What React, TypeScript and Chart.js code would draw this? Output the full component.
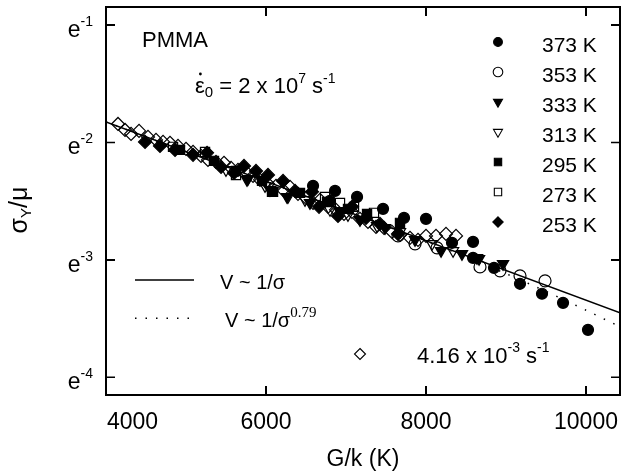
import React, { useEffect, useRef, useState } from "react";
import { Chart, registerables } from "chart.js";

Chart.register(...registerables);

// ---------- axis ----------
const xMin = 4000;
const xMax = 10425;
const yMin = -4.151;
const yMax = -0.847;
const xTicks = [4000, 6000, 8000, 10000];
const xTickLabels = ["4000", "6000", "8000", "10000"];
const yTicks = [-4, -3, -2, -1];
const yTickExponents = ["-4", "-3", "-2", "-1"];

// ---------- data (x = G/k in K, y = ln(σY/μ)) ----------
const k373X = [6588, 6800, 6863, 7138, 7463, 7725, 8000, 8325, 8588, 8588, 8850, 9175, 9450, 9713, 10025];
const k373Y = [-2.370, -2.498, -2.413, -2.464, -2.566, -2.643, -2.651, -2.855, -2.847, -2.983, -3.068, -3.204, -3.289, -3.366, -3.596];

const k353X = [7650, 7863, 8138, 8675, 8925, 9175, 9488];
const k353Y = [-2.796, -2.864, -2.898, -3.060, -3.094, -3.136, -3.179];

const k333X = [5763, 6050, 6263, 6550, 6925, 7175, 7488, 7863, 8188, 8450, 8663, 8963];
const k333Y = [-2.319, -2.404, -2.464, -2.515, -2.591, -2.660, -2.728, -2.830, -2.923, -2.949, -2.991, -3.034];

const k313X = [5500, 5775, 5988, 6275, 6488, 6800, 7025, 7388, 7675, 8075, 8338, 8638];
const k313Y = [-2.234, -2.311, -2.370, -2.464, -2.489, -2.574, -2.617, -2.711, -2.762, -2.864, -2.923, -2.983];

const k295X = [4925, 5350, 5625, 5950, 6088, 6425, 6763, 7025, 7263, 7675];
const k295Y = [-2.064, -2.157, -2.243, -2.328, -2.421, -2.430, -2.506, -2.566, -2.609, -2.685];

const k273X = [4838, 5238, 5625, 6075, 6738, 6925, 7100, 7350];
const k273Y = [-2.038, -2.081, -2.277, -2.421, -2.464, -2.515, -2.549, -2.600];

const k253X = [4488, 4675, 4863, 5088, 5263, 5438, 5600, 5725, 5875, 6025, 6213, 6363, 6575, 6663, 6900, 7075, 7250, 7425, 7650];
const k253Y = [-1.996, -2.030, -2.064, -2.106, -2.089, -2.209, -2.260, -2.200, -2.243, -2.277, -2.328, -2.413, -2.421, -2.549, -2.626, -2.549, -2.643, -2.694, -2.779];

const rateX = [4150, 4238, 4313, 4413, 4525, 4625, 4713, 4800, 4900, 5000, 5088, 5188, 5275, 5375, 5475, 5563, 5650, 5750, 5838, 5925, 6025, 6125, 6213, 6300, 6400, 6500, 6588, 6675, 6775, 6875, 6975, 7075, 7175, 7275, 7375, 7475, 7575, 7675, 7800, 7900, 8000, 8125, 8250, 8375];
const rateY = [-1.843, -1.894, -1.928, -1.902, -1.953, -1.979, -1.996, -2.004, -2.030, -2.055, -2.081, -2.115, -2.149, -2.166, -2.174, -2.217, -2.234, -2.251, -2.285, -2.319, -2.353, -2.370, -2.404, -2.379, -2.438, -2.472, -2.515, -2.489, -2.549, -2.574, -2.609, -2.591, -2.651, -2.677, -2.719, -2.728, -2.762, -2.787, -2.813, -2.830, -2.796, -2.796, -2.779, -2.796];

const fitX = [4000, 10425];
const fitY = [-1.8255, -3.451];

const fit079X = [4000, 6000, 7000, 7675, 8000, 8500, 9000, 9500, 10000, 10425];
const fit079Y = [-1.8255, -2.3315, -2.5845, -2.7553, -2.839, -2.975, -3.118, -3.269, -3.429, -3.570];

const legendLabels = ["373 K", "353 K", "333 K", "313 K", "295 K", "273 K", "253 K"];

const FONT = "'Liberation Sans', Arial, Helvetica, sans-serif";
const SERIF = "'Liberation Serif', 'Times New Roman', serif";
const CLEAR = "rgba(0,0,0,0)";

const toPts = (xs: number[], ys: number[]) => xs.map((x, i) => ({ x, y: ys[i] }));

type Part = { t: string; size: number; dy?: number; family?: string };

function richWidth(ctx: CanvasRenderingContext2D, parts: Part[]) {
  let w = 0;
  for (const p of parts) {
    ctx.font = `${p.size}px ${p.family || FONT}`;
    w += ctx.measureText(p.t).width;
  }
  return w;
}

function drawRich(ctx: CanvasRenderingContext2D, parts: Part[], x: number, y: number) {
  let cx = x;
  ctx.textAlign = "left";
  ctx.textBaseline = "alphabetic";
  for (const p of parts) {
    ctx.font = `${p.size}px ${p.family || FONT}`;
    ctx.fillText(p.t, cx, y + (p.dy || 0));
    cx += ctx.measureText(p.t).width;
  }
  return cx;
}

function drawMarker(ctx: CanvasRenderingContext2D, style: string, r: number, rotDeg: number, filled: boolean, x: number, y: number) {
  ctx.save();
  ctx.beginPath();
  const rot = (rotDeg * Math.PI) / 180;
  if (style === "circle") {
    ctx.arc(x, y, r, 0, Math.PI * 2);
  } else if (style === "triangle") {
    let a = rot;
    ctx.moveTo(x + Math.sin(a) * r, y - Math.cos(a) * r);
    a += (2 * Math.PI) / 3;
    ctx.lineTo(x + Math.sin(a) * r, y - Math.cos(a) * r);
    a += (2 * Math.PI) / 3;
    ctx.lineTo(x + Math.sin(a) * r, y - Math.cos(a) * r);
  } else if (style === "rect") {
    const s = Math.SQRT1_2 * r;
    ctx.rect(x - s, y - s, 2 * s, 2 * s);
  } else {
    ctx.moveTo(x, y - r);
    ctx.lineTo(x + r, y);
    ctx.lineTo(x, y + r);
    ctx.lineTo(x - r, y);
  }
  ctx.closePath();
  ctx.lineWidth = 1.1;
  ctx.strokeStyle = "#000";
  if (filled) {
    ctx.fillStyle = "#000";
    ctx.fill();
  }
  ctx.stroke();
  ctx.restore();
}

function drawFrame(chart: any) {
  const ctx: CanvasRenderingContext2D = chart.ctx;
  const a = chart.chartArea;
  const xs = chart.scales.x;
  const ys = chart.scales.y;
  ctx.save();
  ctx.strokeStyle = "#000";
  ctx.lineWidth = 1.5;
  ctx.setLineDash([]);
  ctx.strokeRect(a.left, a.top, a.right - a.left, a.bottom - a.top);
  ctx.beginPath();
  for (const v of xTicks) {
    const px = xs.getPixelForValue(v);
    ctx.moveTo(px, a.bottom);
    ctx.lineTo(px, a.bottom - 9);
    ctx.moveTo(px, a.top);
    ctx.lineTo(px, a.top + 9);
  }
  for (const v of yTicks) {
    const py = ys.getPixelForValue(v);
    ctx.moveTo(a.left, py);
    ctx.lineTo(a.left + 9, py);
    ctx.moveTo(a.right, py);
    ctx.lineTo(a.right - 9, py);
  }
  ctx.stroke();
  ctx.restore();
}

const framePlugin = {
  id: "frameBox",
  afterDraw(chart: any) {
    drawFrame(chart);
  },
};

const textPlugin = {
  id: "texts",
  afterDraw(chart: any) {
    const ctx: CanvasRenderingContext2D = chart.ctx;
    const a = chart.chartArea;
    const xs = chart.scales.x;
    const ys = chart.scales.y;
    ctx.save();
    ctx.fillStyle = "#000";

    ctx.font = `23px ${FONT}`;
    ctx.textBaseline = "alphabetic";
    ctx.textAlign = "left";
    xTicks.forEach((v, i) => {
      const px = xs.getPixelForValue(v);
      const w = ctx.measureText(xTickLabels[i]).width;
      const left = Math.max(px - w / 2, a.left + 1);
      ctx.fillText(xTickLabels[i], left, a.bottom + 34);
    });

    yTicks.forEach((v, i) => {
      const py = ys.getPixelForValue(v);
      const parts: Part[] = [
        { t: "e", size: 23 },
        { t: yTickExponents[i], size: 14, dy: -11 },
      ];
      const w = richWidth(ctx, parts);
      drawRich(ctx, parts, a.left - 13 - w, py + 12);
    });

    ctx.font = `23px ${FONT}`;
    ctx.textAlign = "center";
    ctx.textBaseline = "alphabetic";
    ctx.fillText("G/k (K)", (a.left + a.right) / 2, 466);

    ctx.save();
    ctx.translate(21, 210);
    ctx.rotate(-Math.PI / 2);
    const yParts: Part[] = [
      { t: "σ", size: 25 },
      { t: "Y", size: 15, dy: 4 },
      { t: "/μ", size: 25 },
    ];
    const yw = richWidth(ctx, yParts);
    drawRich(ctx, yParts, -yw / 2, 6);
    ctx.restore();

    ctx.font = `22px ${FONT}`;
    ctx.textAlign = "left";
    ctx.fillText("PMMA", 142, 47);

    const epsX = 195;
    drawRich(
      ctx,
      [
        { t: "ε", size: 22 },
        { t: "0", size: 15, dy: 4 },
        { t: " = 2 x 10", size: 22 },
        { t: "7", size: 14, dy: -10 },
        { t: " s", size: 22 },
        { t: "-1", size: 14, dy: -10 },
      ],
      epsX,
      93
    );
    ctx.font = `22px ${FONT}`;
    const ew = ctx.measureText("ε").width;
    ctx.beginPath();
    ctx.arc(epsX + ew / 2 + 0.5, 74, 1.4, 0, Math.PI * 2);
    ctx.fill();

    const dsets = chart.data.datasets;
    legendLabels.forEach((lab, i) => {
      const ds = dsets[i];
      const ly = 42 + i * 30;
      drawMarker(ctx, ds.pointStyle, ds.pointRadius * 0.8, ds.pointRotation || 0, ds.backgroundColor !== CLEAR, 498, ly);
      ctx.fillStyle = "#000";
      ctx.font = `21px ${FONT}`;
      ctx.textAlign = "left";
      ctx.textBaseline = "alphabetic";
      ctx.fillText(lab, 542, ly + 10);
    });

    ctx.strokeStyle = "#000";
    ctx.lineWidth = 1.5;
    ctx.beginPath();
    ctx.moveTo(135, 280);
    ctx.lineTo(194, 280);
    ctx.stroke();
    ctx.fillStyle = "#000";
    for (let dx = 0; dx <= 55; dx += 10.5) {
      ctx.fillRect(135 + dx, 317.5, 1.5, 1.5);
    }
    drawRich(ctx, [{ t: "V ~ 1/σ", size: 20 }], 220, 289);
    drawRich(
      ctx,
      [
        { t: "V ~ 1/σ", size: 20 },
        { t: "0.79", size: 15, dy: -10, family: SERIF },
      ],
      225,
      327
    );

    drawMarker(ctx, "rectRot", 5.5, 0, false, 360, 354);
    ctx.fillStyle = "#000";
    drawRich(
      ctx,
      [
        { t: "4.16 x 10", size: 22 },
        { t: "-3", size: 14, dy: -11 },
        { t: " s", size: 22 },
        { t: "-1", size: 14, dy: -11 },
      ],
      417,
      363
    );

    ctx.restore();
  },
};

type FrameGeom = { L: number; R: number; T: number; B: number; xp: number[]; yp: number[] };

export default function App() {
  const ref = useRef<HTMLCanvasElement | null>(null);
  const [geom, setGeom] = useState<FrameGeom | null>(null);

  useEffect(() => {
    document.body.style.margin = "0";
    const canvas = ref.current;
    if (!canvas) return;
    const marker = (
      label: string,
      xs: number[],
      ys: number[],
      style: string,
      radius: number,
      filled: boolean,
      rotation = 0
    ) => ({
      label,
      data: toPts(xs, ys),
      showLine: false,
      pointStyle: style,
      pointRadius: radius,
      pointRotation: rotation,
      pointBorderWidth: 1.2,
      borderColor: "#000",
      backgroundColor: filled ? "#000" : CLEAR,
      pointBackgroundColor: filled ? "#000" : CLEAR,
      pointBorderColor: "#000",
    });

    const chart = new Chart(canvas, {
      type: "scatter",
      data: {
        datasets: [
          marker("373 K", k373X, k373Y, "circle", 5.5, true),
          marker("353 K", k353X, k353Y, "circle", 6, false),
          marker("333 K", k333X, k333Y, "triangle", 6.5, true, 180),
          marker("313 K", k313X, k313Y, "triangle", 6.5, false, 180),
          marker("295 K", k295X, k295Y, "rect", 6.5, true),
          marker("273 K", k273X, k273Y, "rect", 6.5, false),
          marker("253 K", k253X, k253Y, "rectRot", 6.5, true),
          marker("4.16 x 10^-3 s^-1", rateX, rateY, "rectRot", 6.5, false),
          {
            label: "V ~ 1/σ",
            data: toPts(fitX, fitY),
            showLine: true,
            pointRadius: 0,
            borderColor: "#000",
            borderWidth: 1.5,
            backgroundColor: CLEAR,
          } as any,
          {
            label: "V ~ 1/σ^0.79",
            data: toPts(fit079X, fit079Y),
            showLine: true,
            pointRadius: 0,
            borderColor: "#000",
            borderWidth: 1.5,
            borderDash: [1.5, 9],
            tension: 0.3,
            backgroundColor: CLEAR,
          } as any,
        ] as any,
      },
      options: {
        animation: false,
        responsive: false,
        devicePixelRatio: 1,
        layout: { autoPadding: false, padding: { left: 106, right: 1, top: 7, bottom: 81 } },
        plugins: { legend: { display: false }, tooltip: { enabled: false } },
        scales: {
          x: { type: "linear", min: xMin, max: xMax, display: false },
          y: { type: "linear", min: yMin, max: yMax, display: false },
        },
      } as any,
      plugins: [framePlugin, textPlugin],
    });

    const a = chart.chartArea;
    const sx: any = chart.scales.x;
    const sy: any = chart.scales.y;
    setGeom({
      L: a.left,
      R: a.right,
      T: a.top,
      B: a.bottom,
      xp: xTicks.map((v) => sx.getPixelForValue(v)),
      yp: yTicks.map((v) => sy.getPixelForValue(v)),
    });
    return () => chart.destroy();
  }, []);

  const lw = 1.5;
  const tl = 9;
  const bar = (key: string, left: number, top: number, width: number, height: number) => (
    <div
      key={key}
      style={{ position: "absolute", left, top, width, height, background: "#000", pointerEvents: "none" }}
    />
  );

  return (
    <div style={{ position: "relative", width: 621, height: 476, background: "#fff" }}>
      <canvas ref={ref} width={621} height={476} style={{ display: "block" }} />
      {geom && (
        <>
          {bar("ft", geom.L - lw / 2, geom.T - lw / 2, geom.R - geom.L + lw, lw)}
          {bar("fb", geom.L - lw / 2, geom.B - lw / 2, geom.R - geom.L + lw, lw)}
          {bar("fl", geom.L - lw / 2, geom.T - lw / 2, lw, geom.B - geom.T + lw)}
          {bar("fr", geom.R - lw / 2, geom.T - lw / 2, lw, geom.B - geom.T + lw)}
          {geom.xp.map((px, i) => bar(`xb${i}`, px - lw / 2, geom.B - tl, lw, tl))}
          {geom.xp.map((px, i) => bar(`xt${i}`, px - lw / 2, geom.T, lw, tl))}
          {geom.yp.map((py, i) => bar(`yl${i}`, geom.L, py - lw / 2, tl, lw))}
          {geom.yp.map((py, i) => bar(`yr${i}`, geom.R - tl, py - lw / 2, tl, lw))}
        </>
      )}
    </div>
  );
}
